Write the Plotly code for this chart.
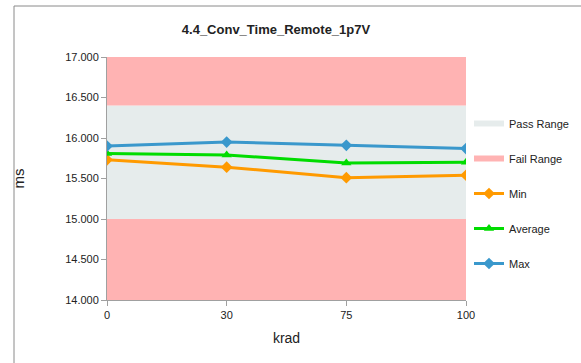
import plotly.graph_objects as go

categories = ["0", "30", "75", "100"]
min_vals = [15.73, 15.64, 15.51, 15.54]
avg_vals = [15.81, 15.79, 15.69, 15.70]
max_vals = [15.90, 15.95, 15.91, 15.87]
pass_low = 15.0
pass_high = 16.4
axis_min = 14.0
axis_max = 17.0
y_ticks = [14.0, 14.5, 15.0, 15.5, 16.0, 16.5, 17.0]

PASS_COLOR = "#E6ECEC"
FAIL_COLOR = "#FFB3B3"
MIN_COLOR = "#FF9A00"
AVG_COLOR = "#00DC00"
MAX_COLOR = "#3A98CC"

n = len(categories)
fig = go.Figure()

fig.add_trace(go.Scatter(x=categories, y=[pass_low] * n, stackgroup="bands", mode="none",
                         fillcolor=FAIL_COLOR, name="Fail Range", showlegend=False,
                         hoverinfo="skip", legendgroup="f0"))
fig.add_trace(go.Scatter(x=categories, y=[pass_high - pass_low] * n, stackgroup="bands", mode="none",
                         fillcolor=PASS_COLOR, name="Pass Range", legendgroup="p"))
fig.add_trace(go.Scatter(x=categories, y=[axis_max - pass_high] * n, stackgroup="bands", mode="none",
                         fillcolor=FAIL_COLOR, name="Fail Range", legendgroup="f"))

for name, vals, col, sym in [("Min", min_vals, MIN_COLOR, "diamond"),
                             ("Average", avg_vals, AVG_COLOR, "triangle-up"),
                             ("Max", max_vals, MAX_COLOR, "diamond")]:
    fig.add_trace(go.Scatter(x=categories, y=vals, mode="lines+markers", name=name,
                             line=dict(color=col, width=3),
                             marker=dict(color=col, symbol=sym, size=9),
                             legendgroup=name))

FONT = "Liberation Sans"
W, H = 581, 363
L, R, T, B = 107, 115, 57, 63
PW, PH = W - L - R, H - T - B

fig.update_layout(
    width=W, height=H,
    margin=dict(l=L, r=R, t=T, b=B, autoexpand=False),
    paper_bgcolor="white", plot_bgcolor="white",
    font=dict(family=FONT, size=11, color="#222"),
    title=dict(text="<b>4.4_Conv_Time_Remote_1p7V</b>", x=(276 - L) / PW, xref="paper",
               xanchor="center", y=1 - 29 / H, yanchor="middle",
               font=dict(size=13, family=FONT)),
    showlegend=True,
    legend=dict(x=(469 - (W - R)) / PW + 1, xanchor="left", y=(H - B - 109) / PH,
                yanchor="top", tracegroupgap=16,
                font=dict(size=11, family=FONT), itemwidth=30, bgcolor="rgba(0,0,0,0)"),
    xaxis=dict(type="category", range=[0, n - 1], showgrid=False, showline=True,
               linecolor="#A0A0A0", linewidth=1, ticks="outside", tickcolor="#A0A0A0",
               ticklen=5, title=dict(text="krad", font=dict(size=14), standoff=12),
               zeroline=False),
    yaxis=dict(range=[axis_min, axis_max], tickvals=y_ticks, tickformat=".3f",
               showgrid=False, showline=True, linecolor="#A0A0A0", linewidth=1,
               ticks="outside", tickcolor="#A0A0A0", ticklen=5,
               title=dict(text="ms", font=dict(size=15), standoff=36), zeroline=False),
)

# chart border (top and left visible)
x0 = (14 - L) / PW
y0 = (H - B - 6) / PH
fig.add_shape(type="line", xref="paper", yref="paper", x0=x0, x1=x0, y0=-0.5, y1=y0,
              line=dict(color="#8A8A8A", width=1))
fig.add_shape(type="line", xref="paper", yref="paper", x0=x0, x1=1.5, y0=y0, y1=y0,
              line=dict(color="#8A8A8A", width=1))

fig.write_html("out.html", post_script="document.body.style.margin='0';",
               config={"displayModeBar": False})
